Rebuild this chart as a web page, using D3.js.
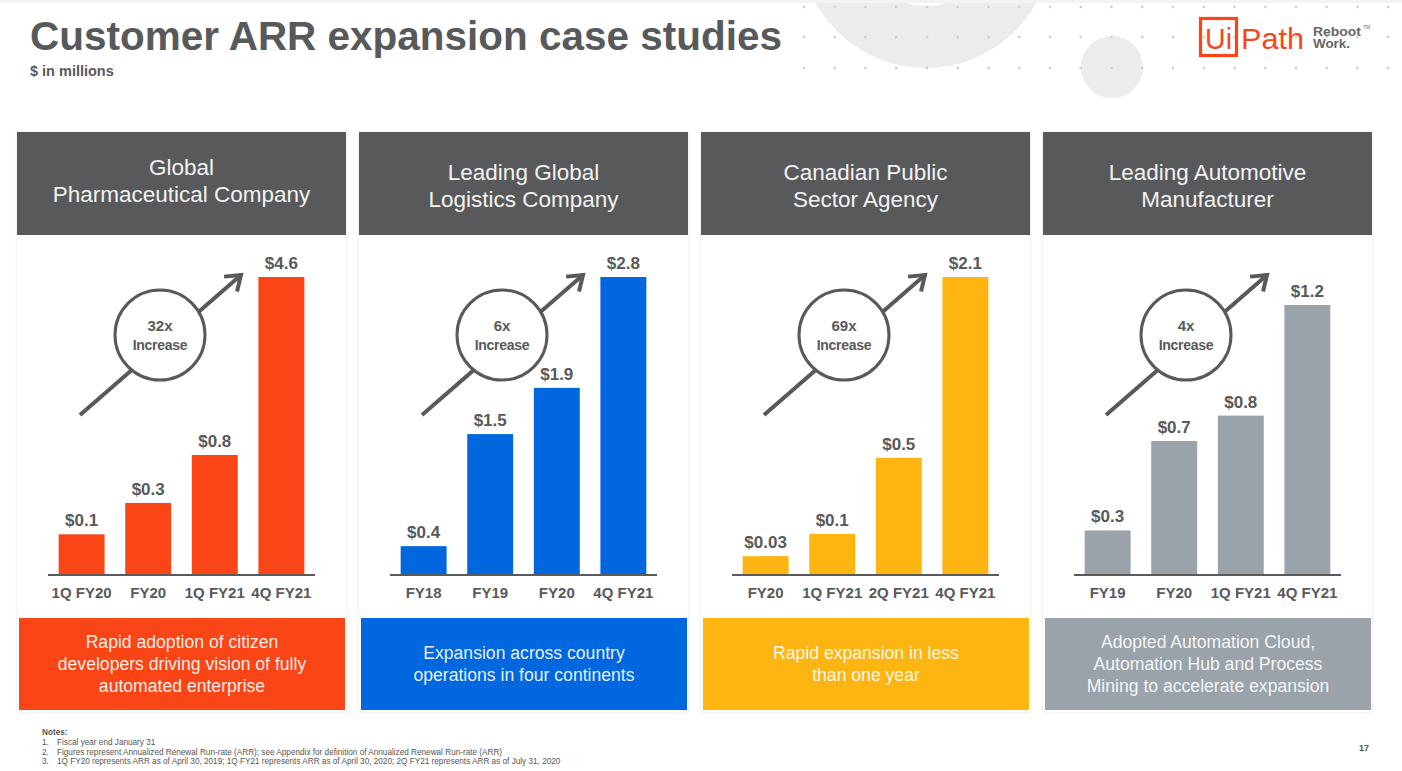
<!DOCTYPE html>
<html>
<head>
<meta charset="utf-8">
<script src="https://cdn.jsdelivr.net/npm/d3@7"></script>
<style>
  html, body { margin: 0; padding: 0; background: #fff; }
  svg { display: block; }
  text { font-family: "Liberation Sans", Arial, sans-serif; }
</style>
</head>
<body>
<svg id="chart" width="1402" height="771"></svg>
<script>
// ---------------- DATA ----------------
const chartTitle = "Customer ARR expansion case studies";
const chartSubtitle = "$ in millions";
const panelTitles = [
  ["Global", "Pharmaceutical Company"],
  ["Leading Global", "Logistics Company"],
  ["Canadian Public", "Sector Agency"],
  ["Leading Automotive", "Manufacturer"]
];
const categories = [
  ["1Q FY20", "FY20", "1Q FY21", "4Q FY21"],
  ["FY18", "FY19", "FY20", "4Q FY21"],
  ["FY20", "1Q FY21", "2Q FY21", "4Q FY21"],
  ["FY19", "FY20", "1Q FY21", "4Q FY21"]
];
const pharmaValues = [0.1, 0.3, 0.8, 4.6];
const logisticsValues = [0.4, 1.5, 1.9, 2.8];
const canadianValues = [0.03, 0.1, 0.5, 2.1];
const automotiveValues = [0.3, 0.7, 0.8, 1.2];
const seriesValues = [pharmaValues, logisticsValues, canadianValues, automotiveValues];
const increaseLabels = ["32x", "6x", "69x", "4x"];
const descriptions = [
  ["Rapid adoption of citizen", "developers driving vision of fully", "automated enterprise"],
  ["Expansion across country", "operations in four continents"],
  ["Rapid expansion in less", "than one year"],
  ["Adopted Automation Cloud,", "Automation Hub and Process", "Mining to accelerate expansion"]
];
const notesTitle = "Notes:";
const notes = [
  "Fiscal year end January 31",
  "Figures represent Annualized Renewal Run-rate (ARR); see Appendix for definition of Annualized Renewal Run-rate (ARR)",
  "1Q FY20 represents ARR as of April 30, 2019; 1Q FY21 represents ARR as of April 30, 2020; 2Q FY21 represents ARR as of July 31, 2020"
];
const pageNumber = "17";

// ---------------- STYLE ----------------
const panelColors = ["#fa4616", "#0067df", "#feb512", "#9aa2aa"];
const scaleExponents = [0.52, 1.2, 0.65, 1.3];   // stylised bar scale per panel
const maxBarHeights = [298, 298, 298, 270];
const headerShift = [-5, 0, 0, 0];
const dark = "#58595b";

const svg = d3.select("#chart");

// ---------- background decoration ----------
const deco = svg.append("g");
const ring = d3.arc().innerRadius(64).outerRadius(126).startAngle(0).endAngle(2 * Math.PI);
deco.append("path").attr("d", ring()).attr("transform", "translate(926,-58)").attr("fill", "#ececec");
deco.append("circle").attr("cx", 1112).attr("cy", 67).attr("r", 31).attr("fill", "#ececec");
const dotX = d3.range(20).map(i => 804 + i * 30.75);
const dotY = [7, 37, 68];
dotY.forEach(y => {
  deco.selectAll(null).data(dotX).enter().append("rect")
    .attr("x", d => d - 1.2).attr("y", y - 1.2).attr("width", 2.4).attr("height", 2.4)
    .attr("fill", "#cfcfcf");
});
deco.append("rect").attr("x", 0).attr("y", 0).attr("width", 1402).attr("height", 3).attr("fill", "#f3f3f3");

// ---------- title ----------
svg.append("text").attr("x", 30).attr("y", 50).attr("font-size", 40).attr("font-weight", 700)
  .attr("fill", dark).attr("textLength", 752).attr("lengthAdjust", "spacingAndGlyphs").text(chartTitle);
svg.append("text").attr("x", 30).attr("y", 76).attr("font-size", 14.5).attr("font-weight", 700)
  .attr("fill", dark).text(chartSubtitle);

// ---------- logo ----------
const logo = svg.append("g");
logo.append("rect").attr("x", 1200.5).attr("y", 18.5).attr("width", 36).attr("height", 37)
  .attr("fill", "none").attr("stroke", "#fa4616").attr("stroke-width", 3.2);
logo.append("text").attr("x", 1205).attr("y", 49)
  .attr("font-family", "Lato, 'Open Sans', sans-serif").attr("font-size", 30).attr("fill", "#fa4616")
  .attr("textLength", 27).attr("lengthAdjust", "spacingAndGlyphs").text("Ui");
logo.append("text").attr("x", 1241).attr("y", 49)
  .attr("font-family", "Lato, 'Open Sans', sans-serif").attr("font-size", 30).attr("fill", "#fa4616")
  .attr("textLength", 63).attr("lengthAdjust", "spacingAndGlyphs").text("Path");
logo.append("text").attr("x", 1313).attr("y", 36).attr("font-size", 12.5).attr("font-weight", 700)
  .attr("fill", "#666").attr("textLength", 48).attr("lengthAdjust", "spacingAndGlyphs").text("Reboot");
logo.append("text").attr("x", 1363).attr("y", 29).attr("font-size", 5).attr("fill", "#666").text("TM");
logo.append("text").attr("x", 1313).attr("y", 48).attr("font-size", 12.5).attr("font-weight", 700)
  .attr("fill", "#666").attr("textLength", 37).attr("lengthAdjust", "spacingAndGlyphs").text("Work.");

// ---------- panels ----------
const panelW = 329, panelStep = 342, panelX0 = 17;
const headerY = 132, headerH = 103, bodyBottom = 712;
const baseY = 575;

const defs = svg.append("defs");
const filt = defs.append("filter").attr("id", "shadow").attr("x", "-5%").attr("y", "-5%").attr("width", "110%").attr("height", "110%");
filt.append("feDropShadow").attr("dx", 0).attr("dy", 0).attr("stdDeviation", 1.5).attr("flood-color", "#000").attr("flood-opacity", 0.12);

seriesValues.forEach((vals, i) => {
  const g = svg.append("g").attr("transform", `translate(${panelX0 + i * panelStep},0)`);
  const color = panelColors[i];

  // body
  g.append("rect").attr("x", 0).attr("y", headerY).attr("width", panelW).attr("height", bodyBottom - headerY)
    .attr("fill", "#fff").attr("filter", "url(#shadow)");
  // header
  g.append("rect").attr("x", 0).attr("y", headerY).attr("width", panelW).attr("height", headerH).attr("fill", dark);
  const ht = g.append("text").attr("text-anchor", "middle").attr("font-size", 22.5).attr("fill", "#f2f2f2");
  panelTitles[i].forEach((line, k) => {
    ht.append("tspan").attr("x", panelW / 2).attr("y", 180 + headerShift[i] + k * 27).text(line);
  });

  // scales
  const x = d3.scaleBand().domain(categories[i]).range([31, 298]).paddingInner(0.31).paddingOuter(0.16);
  const h = d3.scalePow().exponent(scaleExponents[i]).domain([0, d3.max(vals)]).range([0, maxBarHeights[i]]);

  const data = vals.map((v, k) => ({ cat: categories[i][k], v }));

  // annotation arrow + circle
  const ax1 = 63, ay1 = 415, ax2 = 224, ay2 = 275;
  g.append("line").attr("x1", ax1).attr("y1", ay1).attr("x2", ax2).attr("y2", ay2)
    .attr("stroke", dark).attr("stroke-width", 4);
  const ang = Math.atan2(ay2 - ay1, ax2 - ax1);
  const hl = 17, spread = 0.62;
  const p1 = [ax2 - hl * Math.cos(ang - spread), ay2 - hl * Math.sin(ang - spread)];
  const p2 = [ax2 - hl * Math.cos(ang + spread), ay2 - hl * Math.sin(ang + spread)];
  g.append("path").attr("d", `M${p1[0]},${p1[1]}L${ax2},${ay2}L${p2[0]},${p2[1]}`)
    .attr("fill", "none").attr("stroke", dark).attr("stroke-width", 4).attr("stroke-linejoin", "miter");
  g.append("circle").attr("cx", 143).attr("cy", 335).attr("r", 45)
    .attr("fill", "#fff").attr("stroke", dark).attr("stroke-width", 3);
  g.append("text").attr("x", 143).attr("y", 331).attr("text-anchor", "middle").attr("font-size", 15)
    .attr("font-weight", 700).attr("fill", dark).text(increaseLabels[i]);
  g.append("text").attr("x", 143).attr("y", 350).attr("text-anchor", "middle").attr("font-size", 14)
    .attr("font-weight", 700).attr("letter-spacing", -0.3).attr("fill", dark).text("Increase");

  // bars
  g.selectAll("rect.bar").data(data).enter().append("rect").attr("class", "bar")
    .attr("x", d => x(d.cat)).attr("width", x.bandwidth())
    .attr("y", d => baseY - h(d.v)).attr("height", d => h(d.v)).attr("fill", color);

  // value labels
  g.selectAll("text.val").data(data).enter().append("text").attr("class", "val")
    .attr("x", d => x(d.cat) + x.bandwidth() / 2).attr("y", d => baseY - h(d.v) - 8)
    .attr("text-anchor", "middle").attr("font-size", 17).attr("font-weight", 700).attr("fill", dark)
    .text(d => "$" + d.v);

  // axis
  const axis = d3.axisBottom(x).tickSize(0).tickPadding(12);
  const ag = g.append("g").attr("transform", `translate(0,${baseY})`).call(axis);
  ag.select(".domain").attr("stroke", "#5a5a5a").attr("stroke-width", 2).attr("d", "M31,0H298");
  ag.selectAll(".tick text").attr("font-family", "'Liberation Sans', Arial, sans-serif")
    .attr("font-size", 15).attr("font-weight", 700).attr("fill", dark);

  // description box
  g.append("rect").attr("x", 2).attr("y", 618).attr("width", 326).attr("height", 92).attr("fill", color);
  const lines = descriptions[i];
  const dt = g.append("text").attr("text-anchor", "middle").attr("font-size", 17.6).attr("fill", "#fff").attr("fill-opacity", 0.92);
  lines.forEach((line, k) => {
    dt.append("tspan").attr("x", 165).attr("y", 664 + 6 + (k - (lines.length - 1) / 2) * 22).text(line);
  });
});

// ---------- notes ----------
const ng = svg.append("g").attr("fill", "#555");
ng.append("text").attr("x", 42).attr("y", 735).attr("font-size", 8.2).attr("font-weight", 700).text(notesTitle);
notes.forEach((n, k) => {
  ng.append("text").attr("x", 42).attr("y", 745 + k * 9.7).attr("font-size", 8.2).text((k + 1) + ".");
  ng.append("text").attr("x", 57).attr("y", 745 + k * 9.7).attr("font-size", 8.2).text(n);
});
svg.append("text").attr("x", 1369).attr("y", 751).attr("text-anchor", "end").attr("font-size", 9)
  .attr("font-weight", 700).attr("fill", "#555").text(pageNumber);
</script>
</body>
</html>
